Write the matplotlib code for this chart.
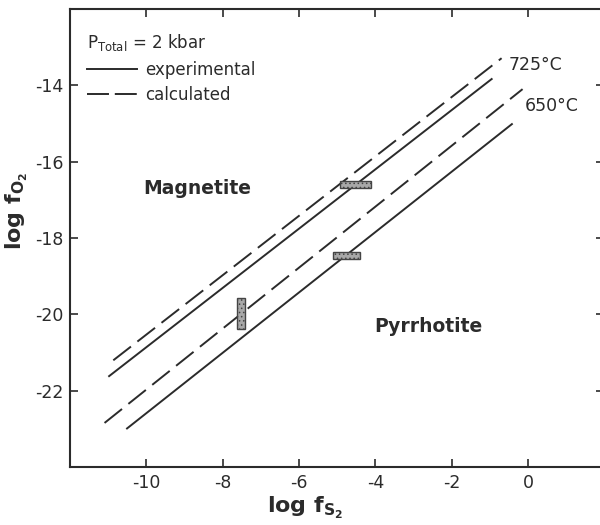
import numpy as np
import matplotlib
matplotlib.use('Agg')
import matplotlib.pyplot as plt
from matplotlib.lines import Line2D
from matplotlib.patches import Rectangle

plt.rcParams['font.family'] = ['DejaVu Sans']
plt.rcParams['mathtext.default'] = 'regular'
plt.rcParams['hatch.color'] = '#555555'
plt.rcParams['hatch.linewidth'] = 0.6

INK = '#2b2b2b'

# magnetite / pyrrhotite boundary endpoints (log fS2, log fO2)
exp_725_x = [-11.0, -0.93]
exp_725_y = [-21.63, -13.82]
calc_725_x = [-10.87, -0.69]
calc_725_y = [-21.2, -13.29]
exp_650_x = [-10.53, -0.40]
exp_650_y = [-23.0, -15.0]
calc_650_x = [-11.1, -0.14]
calc_650_y = [-22.84, -14.1]

# experimental brackets: (x0, x1, y0, y1)
brackets = [
    (-4.93, -4.12, -16.68, -16.50),
    (-5.11, -4.41, -18.55, -18.37),
    (-7.63, -7.42, -20.39, -19.58),
]

xticks = [-10, -8, -6, -4, -2, 0]
yticks = [-22, -20, -18, -16, -14]

fig = plt.figure(figsize=(6, 5.25), dpi=100)
ax = fig.add_axes([0.117, 0.110, 0.89, 0.873])

lw = 1.4
dash = (11.5, 4.2)
ax.plot(exp_725_x, exp_725_y, color=INK, lw=lw, solid_capstyle='butt')
ax.plot(exp_650_x, exp_650_y, color=INK, lw=lw, solid_capstyle='butt')
ax.plot(calc_725_x, calc_725_y, color=INK, lw=lw, dashes=dash, dash_capstyle='butt')
ax.plot(calc_650_x, calc_650_y, color=INK, lw=lw, dashes=dash, dash_capstyle='butt')

for x0, x1, y0, y1 in brackets:
    ax.add_patch(Rectangle((x0, y0), x1 - x0, y1 - y0, facecolor='#a8a8a8',
                           edgecolor='#444444', lw=1.0, hatch='....', zorder=3))

ax.set_xlim(-12, 2)
ax.set_ylim(-24, -12)
ax.set_xticks(xticks)
ax.set_yticks(yticks)
ax.set_xticklabels([str(v) for v in xticks])
ax.set_yticklabels([str(v) for v in yticks])
ax.tick_params(direction='in', length=6, width=1.2, colors=INK, labelsize=12.5,
               top=True, right=True, pad=5)
for s in ax.spines.values():
    s.set_color(INK)
    s.set_linewidth(1.5)

ax.set_xlabel(r'log f$_{S_2}$', fontsize=16, fontweight='bold', color=INK)
ax.set_ylabel(r'log f$_{O_2}$', fontsize=16, fontweight='bold', color=INK)
ax.xaxis.set_label_coords(0.44, -0.06)
ax.yaxis.set_label_coords(-0.075, 0.56)

# phase field and isotherm labels
ax.text(-10.09, -16.71, 'Magnetite', fontsize=13.5, fontweight='bold', color=INK, va='center')
ax.text(-4.02, -20.32, 'Pyrrhotite', fontsize=13.5, fontweight='bold', color=INK, va='center')
ax.text(-0.51, -13.47, '725°C', fontsize=12.5, color=INK, va='center')
ax.text(-0.09, -14.53, '650°C', fontsize=12.5, color=INK, va='center')

handles = [Line2D([], [], color=INK, lw=lw),
           Line2D([], [], color=INK, lw=lw, dashes=(11.3, 3.0))]
leg = ax.legend(handles, ['experimental', 'calculated'], loc='upper left',
                bbox_to_anchor=(0.01, 0.975), frameon=False, fontsize=12,
                title=r'P$_{Total}$ = 2 kbar', title_fontsize=12,
                alignment='left', handlelength=3.0, handletextpad=0.5,
                labelspacing=0.45, borderpad=0.2)
for t in leg.get_texts():
    t.set_color(INK)
leg.get_title().set_color(INK)

fig.savefig('out.png', dpi=100)
